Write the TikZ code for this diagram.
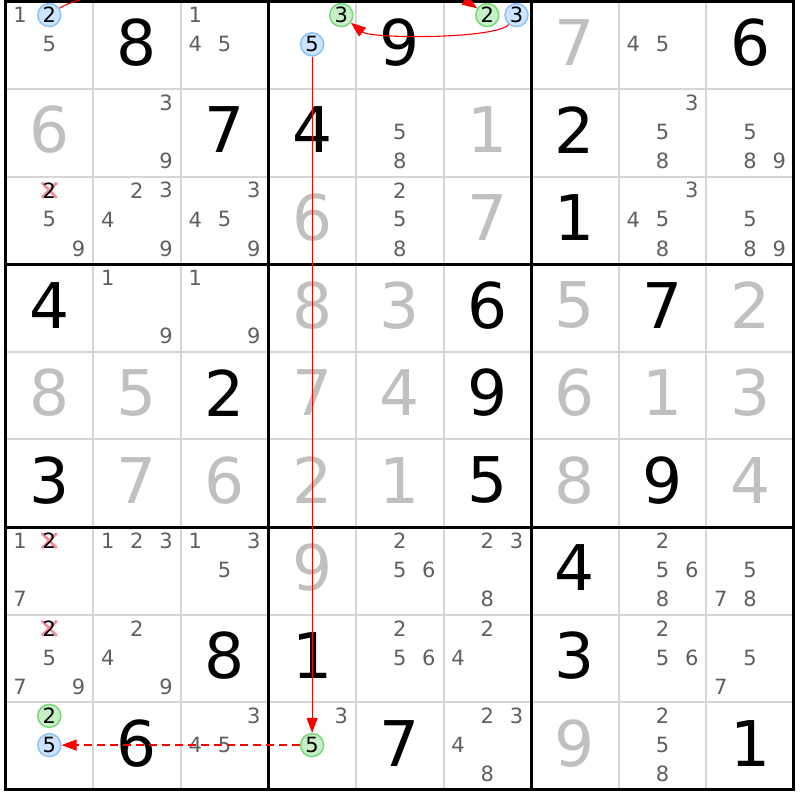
\documentclass[tikz,border=0pt]{standalone}
\usepackage{fontspec}
\setmainfont{DejaVu Sans}
\usetikzlibrary{arrows.meta}
\definecolor{candgray}{RGB}{96,96,96}
\definecolor{givgray}{RGB}{192,192,192}
\definecolor{thingrid}{RGB}{214,214,214}
\definecolor{bluefill}{RGB}{204,228,255}
\definecolor{blueline}{RGB}{140,195,245}
\definecolor{greenfill}{RGB}{200,240,200}
\definecolor{greenline}{RGB}{120,215,120}
\definecolor{crosscol}{RGB}{245,140,155}
\definecolor{arrred}{RGB}{255,0,0}
\tikzset{
  cand/.style={font=\fontsize{21}{21}\selectfont, text=candgray, inner sep=0pt},
  solnode/.style={font=\fontsize{63}{63}\selectfont, inner sep=0pt},
  bluec/.style={circle, draw=blueline, fill=bluefill, line width=1.5pt, minimum size=23pt, inner sep=0pt, text=black, font=\fontsize{21}{21}\selectfont},
  greenc/.style={circle, draw=greenline, fill=greenfill, line width=1.5pt, minimum size=23pt, inner sep=0pt, text=black, font=\fontsize{21}{21}\selectfont},
  arr/.style={color=arrred, line width=1.1pt, -{Triangle[length=15pt,width=11pt]}},
  dasharr/.style={draw=arrred, line width=1.4pt, dash pattern=on 8pt off 5pt, -{Triangle[length=15pt,width=11pt,fill=arrred]}},
  thinline/.style={draw=thingrid, line width=2pt},
  thickline/.style={draw=black, line width=3pt}
}
\newcommand\candpos[3]{%
  \pgfmathsetmacro\candX{5.5+(#2-1)*87.6+(mod(#3-1,3)+0.5)*29.2}%
  \pgfmathsetmacro\candY{798.5-(#1-1)*87.6-(floor((#3-1)/3)+0.5)*29.2+1}}
\newcommand\cands[3]{%
  \foreach \dd in {#3}{\candpos{#1}{#2}{\dd}\node[cand] (c#1#2-\dd) at (\candX,\candY) {\dd};}}
\newcommand\hcand[4]{%
  \candpos{#1}{#2}{#3}\node[#4] (c#1#2-#3) at (\candX,\candY) {#3};}
\newcommand\xcand[3]{%
  \candpos{#1}{#2}{#3}%
  \draw[crosscol, line width=2.8pt] (\candX-7.5,\candY-7.5) -- (\candX+7.5,\candY+7.5) (\candX-7.5,\candY+7.5) -- (\candX+7.5,\candY-7.5);
  \node[cand, text=black] (c#1#2-#3) at (\candX,\candY) {#3};}
\newcommand\sol[4]{%
  \pgfmathsetmacro\solX{5.5+(#2-0.5)*87.6}%
  \pgfmathsetmacro\solY{798.5-(#1-0.5)*87.6+3}%
  \node[solnode, text=#4] (g#1#2) at (\solX,\solY) {#3};}
\begin{document}
\begin{tikzpicture}[x=1pt,y=1pt]
\useasboundingbox (0,0) rectangle (800,800);
\fill[white] (0,0) rectangle (800,800);
\clip (0,0) rectangle (800,800);
% grid
\foreach \i in {1,2,4,5,7,8}{
  \draw[thinline] (5.5+\i*87.6,10.1) -- (5.5+\i*87.6,798.5);
  \draw[thinline] (5.5,798.5-\i*87.6) -- (793.9,798.5-\i*87.6);
}
\foreach \i in {0,3,6,9}{
  \draw[thickline] (5.5+\i*87.6,10.1-1.5) -- (5.5+\i*87.6,798.5+1.5);
  \draw[thickline] (5.5-1.5,798.5-\i*87.6) -- (793.9+1.5,798.5-\i*87.6);
}
% row 1
\cands{1}{1}{1,5}\hcand{1}{1}{2}{bluec}
\sol{1}{2}{8}{black}
\cands{1}{3}{1,4,5}
\hcand{1}{4}{3}{greenc}\hcand{1}{4}{5}{bluec}
\sol{1}{5}{9}{black}
\hcand{1}{6}{2}{greenc}\hcand{1}{6}{3}{bluec}
\sol{1}{7}{7}{givgray}
\cands{1}{8}{4,5}
\sol{1}{9}{6}{black}
% row 2
\sol{2}{1}{6}{givgray}
\cands{2}{2}{3,9}
\sol{2}{3}{7}{black}
\sol{2}{4}{4}{black}
\cands{2}{5}{5,8}
\sol{2}{6}{1}{givgray}
\sol{2}{7}{2}{black}
\cands{2}{8}{3,5,8}
\cands{2}{9}{5,8,9}
% row 3
\xcand{3}{1}{2}\cands{3}{1}{5,9}
\cands{3}{2}{2,3,4,9}
\cands{3}{3}{3,4,5,9}
\sol{3}{4}{6}{givgray}
\cands{3}{5}{2,5,8}
\sol{3}{6}{7}{givgray}
\sol{3}{7}{1}{black}
\cands{3}{8}{3,4,5,8}
\cands{3}{9}{5,8,9}
% row 4
\sol{4}{1}{4}{black}
\cands{4}{2}{1,9}
\cands{4}{3}{1,9}
\sol{4}{4}{8}{givgray}
\sol{4}{5}{3}{givgray}
\sol{4}{6}{6}{black}
\sol{4}{7}{5}{givgray}
\sol{4}{8}{7}{black}
\sol{4}{9}{2}{givgray}
% row 5
\sol{5}{1}{8}{givgray}
\sol{5}{2}{5}{givgray}
\sol{5}{3}{2}{black}
\sol{5}{4}{7}{givgray}
\sol{5}{5}{4}{givgray}
\sol{5}{6}{9}{black}
\sol{5}{7}{6}{givgray}
\sol{5}{8}{1}{givgray}
\sol{5}{9}{3}{givgray}
% row 6
\sol{6}{1}{3}{black}
\sol{6}{2}{7}{givgray}
\sol{6}{3}{6}{givgray}
\sol{6}{4}{2}{givgray}
\sol{6}{5}{1}{givgray}
\sol{6}{6}{5}{black}
\sol{6}{7}{8}{givgray}
\sol{6}{8}{9}{black}
\sol{6}{9}{4}{givgray}
% row 7
\cands{7}{1}{1,7}\xcand{7}{1}{2}
\cands{7}{2}{1,2,3}
\cands{7}{3}{1,3,5}
\sol{7}{4}{9}{givgray}
\cands{7}{5}{2,5,6}
\cands{7}{6}{2,3,8}
\sol{7}{7}{4}{black}
\cands{7}{8}{2,5,6,8}
\cands{7}{9}{5,7,8}
% row 8
\xcand{8}{1}{2}\cands{8}{1}{5,7,9}
\cands{8}{2}{2,4,9}
\sol{8}{3}{8}{black}
\sol{8}{4}{1}{black}
\cands{8}{5}{2,5,6}
\cands{8}{6}{2,4}
\sol{8}{7}{3}{black}
\cands{8}{8}{2,5,6}
\cands{8}{9}{5,7}
% row 9
\hcand{9}{1}{2}{greenc}\hcand{9}{1}{5}{bluec}
\sol{9}{2}{6}{black}
\cands{9}{3}{3,4,5}
\cands{9}{4}{3}\hcand{9}{4}{5}{greenc}
\sol{9}{5}{7}{black}
\cands{9}{6}{2,3,4,8}
\sol{9}{7}{9}{givgray}
\cands{9}{8}{2,5,8}
\sol{9}{9}{1}{black}
% links
\draw[arr] (c11-2) .. controls +(60,40) and +(-60,40) .. (c16-2);
\draw[arr] (c16-3) .. controls +(-20,-24) and +(30,-24) .. (c14-3);
\draw[arr] (c14-5) -- (c94-5);
\draw[dasharr] (c94-5) -- (c91-5);
\end{tikzpicture}
\end{document}
